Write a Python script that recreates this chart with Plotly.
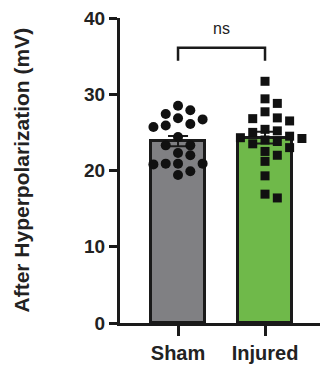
import numpy as np
import plotly.graph_objects as go

categories = ["Sham", "Injured"]
sham = [28.5, 27.9, 27.4, 26.85, 26.7, 26.1, 25.9, 25.7, 24.4, 23.3, 23.3, 22.3,
        22.0, 20.9, 20.9, 20.9, 20.8, 19.9, 19.4]
injured = [31.7, 29.4, 28.8, 27.7, 26.9, 26.8, 26.5, 25.4, 25.2, 25.0, 24.5, 24.3,
           24.2, 24.0, 23.8, 23.5, 23.0, 22.5, 22.0, 21.2, 19.3, 16.9, 16.4]
yticks = [0, 10, 20, 30, 40]
groups = [sham, injured]
fills = ["#808083", "#6fb94a"]
symbols = ["circle", "square"]

PX_PER_Y = 305 / 40.0
PX_PER_X = 87.0
STEP = 12.3  # px between swarm columns
DIAM = 9.6
FONT = "Arial, Liberation Sans, Helvetica, sans-serif"


def swarm(vals):
    placed = []
    offs = []
    for v in vals:
        k = 0
        cands = [0]
        for i in range(1, 6):
            cands += [i, -i]
        for c in cands:
            ok = True
            for (pc, pv) in placed:
                dx = (c - pc) * STEP
                dy = (v - pv) * PX_PER_Y
                if dx * dx + dy * dy < DIAM * DIAM:
                    ok = False
                    break
            if ok:
                k = c
                break
        placed.append((k, v))
        offs.append(k * STEP / PX_PER_X)
    return offs


fig = go.Figure()
for i, (name, vals) in enumerate(zip(categories, groups)):
    arr = np.array(vals)
    mean = arr.mean()
    sem = arr.std(ddof=1) / np.sqrt(len(arr))
    fig.add_trace(go.Bar(
        x=[i], y=[mean], width=0.63,
        marker=dict(color=fills[i], line=dict(color="#1a1a1a", width=3)),
        error_y=dict(type="data", array=[sem], visible=True, color="#1a1a1a",
                     thickness=2, width=10),
        showlegend=False, hoverinfo="skip"))

for i, vals in enumerate(groups):
    sv = sorted(vals, reverse=True)
    offs = swarm(sv)
    fig.add_trace(go.Scatter(
        x=[i + o for o in offs], y=sv, mode="markers",
        marker=dict(symbol=symbols[i], color="#111111",
                    size=10 if i == 0 else 9, line=dict(width=0)),
        showlegend=False, hoverinfo="skip"))

# significance bracket
br_top = 36.1
br_low = 34.4
fig.add_shape(type="path",
              path=f"M 0 {br_low} L 0 {br_top} L 1 {br_top} L 1 {br_low}",
              line=dict(color="#1a1a1a", width=2.5), xref="x", yref="y")
fig.add_annotation(x=0.5, y=br_top + 1.2, text="ns", showarrow=False,
                   yanchor="bottom", font=dict(size=16, color="#222", family=FONT))

# y-axis title
fig.add_annotation(x=(21 - 120) / 200.0, y=0.5, xref="paper", yref="paper",
                   text="After Hyperpolarization (mV)", textangle=-90,
                   showarrow=False, xanchor="center", yanchor="middle",
                   font=dict(size=21, color="#222", family=FONT, weight="bold"))

fig.update_layout(
    width=324, height=373,
    margin=dict(l=120, r=4, t=18, b=50),
    paper_bgcolor="white", plot_bgcolor="white",
    font=dict(family=FONT, color="#222"),
    bargap=0,
)
fig.update_xaxes(
    range=[-0.667, 1.632], tickvals=[0, 1], ticktext=categories,
    showline=True, linecolor="#1a1a1a", linewidth=3,
    ticks="outside", ticklen=10, tickwidth=3, tickcolor="#1a1a1a",
    tickfont=dict(size=20, family=FONT, color="#222", weight="bold"),
    showgrid=False, zeroline=False, fixedrange=True)
fig.update_yaxes(
    range=[0, 40], tickvals=yticks,
    showline=True, linecolor="#1a1a1a", linewidth=3,
    ticks="outside", ticklen=8, tickwidth=3, tickcolor="#1a1a1a",
    tickfont=dict(size=19, family=FONT, color="#222", weight="bold"),
    showgrid=False, zeroline=False, fixedrange=True)

fig.write_html("out.html")
